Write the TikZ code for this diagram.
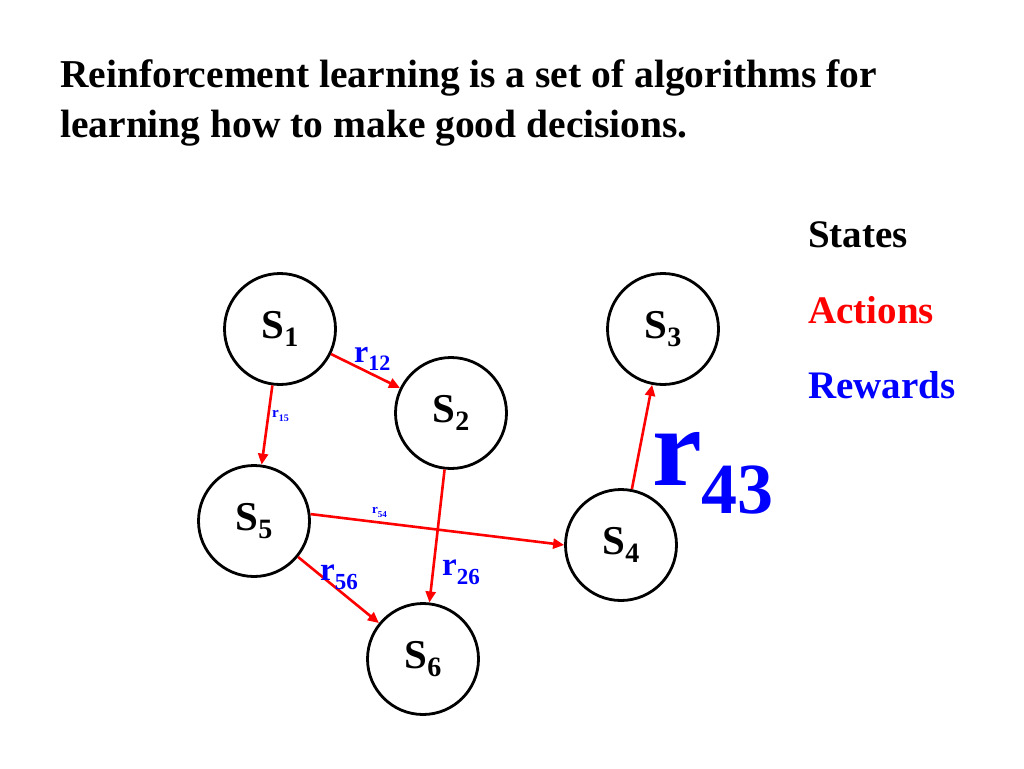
\documentclass[tikz,border=0pt]{standalone}
\usepackage{fontspec}
\setmainfont{Liberation Serif}
\usetikzlibrary{arrows.meta}
\newcommand\fsz[1]{\fontsize{#1}{#1}\selectfont}
% state label: S with subscript
\newcommand\stlab[1]{S\raisebox{-8pt}{\fsz{28}#1}}
% reward label: r with subscript; args: rsize, subsize, lower, sub
\newcommand\rwlab[4]{{\fsz{#1}r}\raisebox{-#3pt}{\fsz{#2}#4}}
\tikzset{
  state/.style={circle, draw=black, line width=2.8pt, minimum size=111pt, inner sep=0pt, font=\fsz{41}\bfseries},
  act/.style={draw={rgb,255:red,255;green,0;blue,0}, line width=2.6pt, -{Triangle[length=11pt,width=10pt]}},
  rew/.style={text={rgb,255:red,0;green,0;blue,255}, font=\bfseries, inner sep=0pt, anchor=base west},
  ttl/.style={font=\fsz{39.5}\bfseries, inner sep=0pt, anchor=base west},
  leg/.style={font=\fsz{39}\bfseries, inner sep=0pt, anchor=base west}
}
\begin{document}
\begin{tikzpicture}[x=1pt,y=-1pt]
\useasboundingbox (0,0) rectangle (1024,768);
% title
\node[ttl] (t1) at (60,87) {Reinforcement learning is a set of algorithms for};
\node[ttl] (t2) at (60,137) {learning how to make good decisions.};
% legend
\node[leg] (lS) at (808,247) {States};
\node[leg, text=red] (lA) at (808,323) {Actions};
\node[leg, text=blue] (lR) at (808,398) {Rewards};
% states
\node[state] (S1) at (280,329) {\stlab{1}};
\node[state] (S2) at (451,413) {\stlab{2}};
\node[state] (S3) at (663,329) {\stlab{3}};
\node[state] (S4) at (621,545) {\stlab{4}};
\node[state] (S5) at (254,521) {\stlab{5}};
\node[state] (S6) at (423,659) {\stlab{6}};
% actions
\draw[act] (S1) -- (S2);
\draw[act] (S1) -- (S5);
\draw[act] (S5.7) -- (S4.west);
\draw[act] (S2) -- (S6);
\draw[act] (S5) -- (S6);
\draw[act] (S4) -- (S3);
% rewards
\node[rew] (r12) at (354,362) {\rwlab{32}{22}{8}{12}};
\node[rew] (r15) at (272,417) {\rwlab{15}{10}{4}{15}};
\node[rew] (r54) at (372,513) {\rwlab{13}{9}{4}{54}};
\node[rew] (r56) at (320,580) {\rwlab{33}{23}{9}{56}};
\node[rew] (r26) at (442,575) {\rwlab{33}{23}{9}{26}};
\node[rew] (r43) at (652,485) {\rwlab{112}{72}{28}{43}};
\end{tikzpicture}
\end{document}
